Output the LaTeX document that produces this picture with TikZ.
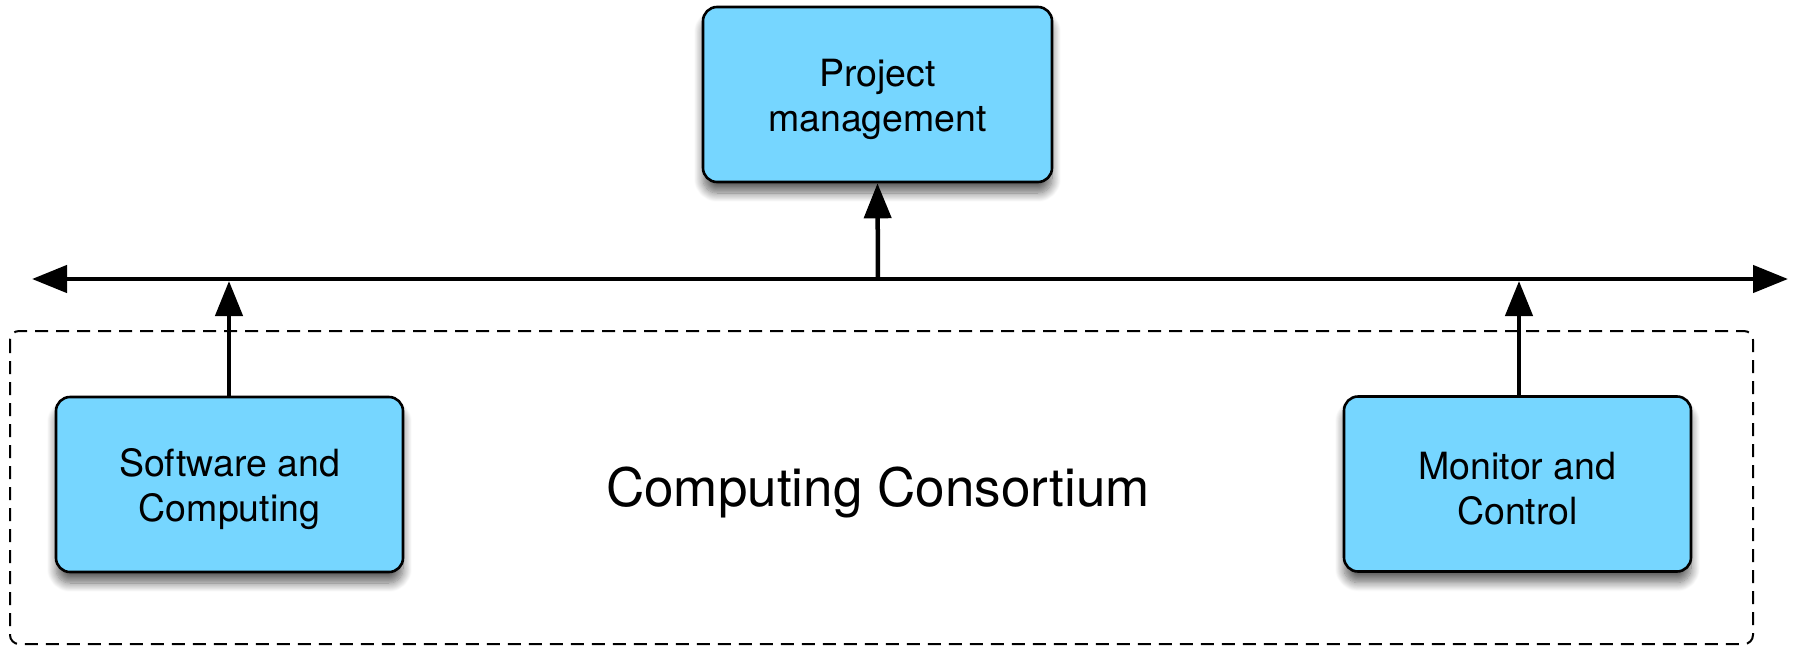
\documentclass[tikz,border=0pt]{standalone}
\usepackage{fontspec}
\setmainfont{TeX Gyre Heros}
\usetikzlibrary{arrows.meta,shadows.blur}
\definecolor{boxblue}{HTML}{76D6FF}
\tikzset{
  unitbox/.style={draw=black, line width=2.6pt, fill=boxblue, rounded corners=14pt,
    minimum width=347pt, minimum height=175pt, inner sep=0pt,
    blur shadow={shadow xshift=0pt, shadow yshift=-11pt, shadow blur radius=9pt, shadow blur steps=12, shadow opacity=60}},
  boxtext/.style={align=center, inner sep=0pt, font=\fontsize{37.5}{45}\selectfont},
  flow/.style={line width=4.5pt, -{Triangle[length=35pt,width=27pt]}},
  group/.style={draw=black, line width=2pt, dash pattern=on 13pt off 8pt, rounded corners=9pt}
}
\begin{document}
\begin{tikzpicture}[x=1pt,y=-1pt]
\useasboundingbox (0,0) rectangle (1794,646);
\draw[group] (10,331) rectangle (1753,644);
\node (cc) at (878,492) {\fontsize{53}{60}\selectfont Computing Consortium};
\node[unitbox, minimum width=349pt] (pm) at (877.5,94.5) {};
\node[unitbox] (sw) at (229.5,484.5) {};
\node[unitbox] (mc) at (1517.5,484) {};
\node[boxtext] (pmt) at ([yshift=-5pt]pm.center) {Project\\management};
\node[boxtext] (swt) at ([yshift=-5pt]sw.center) {Software and\\Computing};
\node[boxtext] (mct) at ([yshift=-5pt]mc.center) {Monitor and\\Control};
\coordinate (busL) at (32,279);
\coordinate (busR) at (1788,279);
\coordinate (busPM) at (878,279);
\coordinate (busSW) at (229,281);
\coordinate (busMC) at (1519,281);
\draw[line width=4.5pt, {Triangle[length=35pt,width=27pt]}-{Triangle[length=35pt,width=27pt]}] (busL) -- (busR);
\draw[flow] (busPM) -- (pm.south);
\draw[flow] (sw.north -| busSW) -- (busSW);
\draw[flow] (mc.north -| busMC) -- (busMC);
\end{tikzpicture}
\end{document}
